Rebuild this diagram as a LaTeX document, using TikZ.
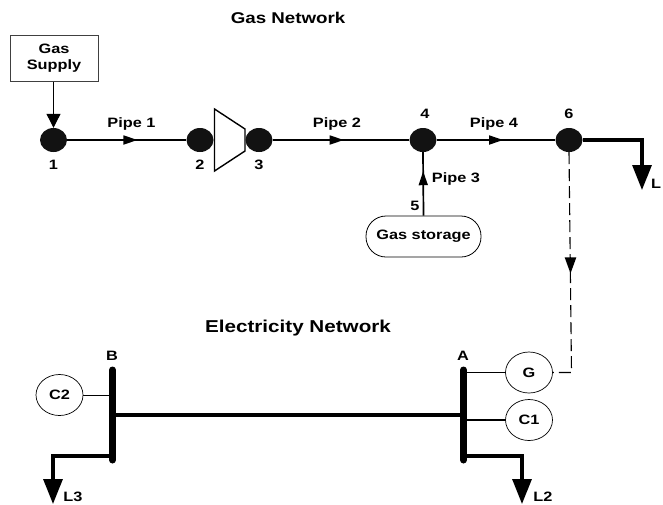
\documentclass[tikz,border=0pt]{standalone}
\usepackage{fontspec}
\setmainfont[FakeStretch=1.2]{Liberation Sans}
\usetikzlibrary{arrows.meta, positioning, shapes.geometric, decorations.markings}

\begin{document}
\begin{tikzpicture}[
  x=1pt, y=-1pt,
  every node/.style={align=center, font=\fontsize{13.6}{15.5}\selectfont\bfseries, inner sep=0pt},
  heading/.style={font=\fontsize{15.6}{18}\selectfont\bfseries},
  supply/.style={rectangle, draw=black!75, line width=1pt, minimum width=88pt, minimum height=46pt},
  junction/.style={ellipse, fill=black!93, minimum width=27pt, minimum height=24pt},
  storage/.style={rectangle, rounded corners=20pt, draw=black, line width=0.8pt,
                  minimum width=115pt, minimum height=41pt},
  unit/.style={ellipse, draw=black, line width=0.7pt, minimum width=47pt, minimum height=41pt},
  pipe/.style={line width=1.7pt},
  pipetip/.style={postaction={decorate}, decoration={markings,
    mark=at position #1 with {\arrow{Stealth[length=14pt, width=9pt, inset=0pt]}}}},
  feed/.style={-{Stealth[length=14pt, width=14pt, inset=0pt]}, line width=1.1pt},
  load/.style={-{Stealth[length=25pt, width=19pt, inset=0pt]}, line width=3.2pt},
  bus/.style={line width=7pt, line cap=round},
  link/.style={line width=1.6pt},
  signal/.style={dash pattern=on 12pt off 5pt, line width=1.1pt}
]
\useasboundingbox (0,0) rectangle (663,504);

% ---- Gas network: titles and source ----
\node (gastitle) [heading] at (288,18) {Gas Network};
\node (source) [supply] at (54,58) {Gas\\Supply};

% ---- Junctions ----
\node (j1) [junction] at (53.5,140) {};
\node (j2) [junction, on grid, right=146.5pt of j1] {};
\node (j3) [junction, on grid, right=59pt of j2] {};
\node (j4) [junction, on grid, right=164pt of j3] {};
\node (j6) [junction, on grid, right=146pt of j4] {};
\node (store) [storage] at (423.5,236.5) {Gas storage};

% ---- Compressor ----
\coordinate (c1) at (214.5,109);
\coordinate (c2) at (245,129);
\coordinate (c3) at (245,151);
\coordinate (c4) at (214.5,171);
\draw [line width=1.4pt, line join=miter, fill=white] (c1) -- (c2) -- (c3) -- (c4) -- cycle;

% ---- Gas labels ----
\node (lab1) [on grid, below=25pt of j1] {1};
\node (lab2) [on grid, below=25pt of j2] {2};
\node (lab3) [on grid, below=24.5pt of j3] {3};
\node (lab4) at (425,114) {4};
\node (lab6) at (569,114) {6};
\node (lab5) at (415,206) {5};
\node (labp1) at (131.5,124) {Pipe 1};
\node (labp2) at (337,124) {Pipe 2};
\node (labp3) at (456,179) {Pipe 3};
\node (labp4) at (494,124) {Pipe 4};
\node (labl) at (656,184) {L};

% ---- Gas arrows ----
\coordinate (loadcorner) at (642,140);
\coordinate (loadend) at (642,190);
\draw [feed] (source.south -| j1) -- (j1.north);
\draw [pipe, pipetip=0.59] (j1) -- (j2);
\draw [pipe, pipetip=0.52] (j3) -- (j4);
\draw [pipe, pipetip=0.56] (j4) -- (j6);
\draw [pipe, pipetip=0.70] (store.north) -- (j4.south);
\draw [load] (j6.east) -- (loadcorner) -- (loadend);

% ---- Electricity network ----
\node (elecititle) [font=\fontsize{17.2}{20}\selectfont\bfseries] at (298,328) {Electricity Network};
\coordinate (bustopb) at (112.5,370);
\coordinate (busendb) at (112.5,460);
\coordinate (bustopa) at (463.5,370);
\coordinate (busenda) at (463.5,460);
\node (labb) at (112,356) {B};
\node (laba) at (463,356) {A};
\node (gen) [unit] at (529,372.5) {G};
\node (con1) [unit] at (529,420) {C1};
\node (con2) [unit] at (59.5,395) {C2};
\node (labl3) at (73,497) {L3};
\node (labl2) at (543,497) {L2};

% ---- Electricity arrows ----
\draw [bus] (bustopb) -- (busendb);
\draw [bus] (bustopa) -- (busenda);
\draw [line width=3.5pt] (bustopb |- 0,415) -- (bustopa |- 0,415);
\draw [link] (bustopa |- gen) -- (gen.west);
\draw [link] (bustopa |- con1) -- (con1.west);
\draw [line width=0.8pt] (con2.east) -- (bustopb |- con2);
\coordinate (l3corner) at (53,456);
\coordinate (l3end) at (53,504);
\coordinate (l2corner) at (522,456);
\coordinate (l2end) at (522,504);
\draw [load] (bustopb |- l3corner) -- (l3corner) -- (l3end);
\draw [load] (bustopa |- l2corner) -- (l2corner) -- (l2end);

% ---- Dashed coupling ----
\coordinate (bend) at (571.5,372.5);
\draw [signal] (j6.south) -- (bend) -- (gen.east);
\node (dashtip) [isosceles triangle, isosceles triangle apex angle=40, shape border rotate=-90,
                 fill=black, minimum height=16pt, minimum width=1pt] at (570.5,261.5) {};
\end{tikzpicture}
\end{document}
